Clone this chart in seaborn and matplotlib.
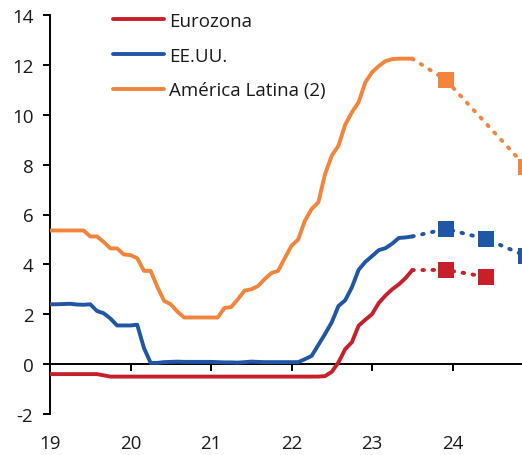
import numpy as np
import pandas as pd
import matplotlib
matplotlib.use("Agg")
import matplotlib.pyplot as plt
import seaborn as sns

# ---------------- data ----------------
series_names = ["Eurozona", "EE.UU.", "América Latina (2)"]
colors = ["#C8202B", "#1F56A6", "#F3843C"]

# monthly history Jan-2019 .. Jul-2023 (x = 19 + month_index/12)
eurozona = [-0.40, -0.40, -0.40, -0.40, -0.40, -0.40, -0.40, -0.40, -0.45, -0.50,
            -0.50, -0.50, -0.50, -0.50, -0.50, -0.50, -0.50, -0.50, -0.50, -0.50,
            -0.50, -0.50, -0.50, -0.50, -0.50, -0.50, -0.50, -0.50, -0.50, -0.50,
            -0.50, -0.50, -0.50, -0.50, -0.50, -0.50, -0.50, -0.50, -0.50, -0.50,
            -0.50, -0.48, -0.31, 0.07, 0.60, 0.88, 1.54, 1.78, 2.00, 2.45,
            2.75, 3.00, 3.20, 3.45, 3.77]
eeuu = [2.40, 2.40, 2.41, 2.42, 2.39, 2.38, 2.40, 2.13, 2.04, 1.83,
        1.55, 1.55, 1.55, 1.58, 0.65, 0.05, 0.05, 0.08, 0.09, 0.10,
        0.09, 0.09, 0.09, 0.09, 0.09, 0.08, 0.07, 0.07, 0.06, 0.08,
        0.10, 0.09, 0.08, 0.08, 0.08, 0.08, 0.08, 0.08, 0.20, 0.33,
        0.77, 1.21, 1.68, 2.33, 2.56, 3.08, 3.78, 4.10, 4.33, 4.57,
        4.65, 4.83, 5.06, 5.08, 5.12]
latam = [5.36, 5.36, 5.36, 5.36, 5.36, 5.36, 5.12, 5.12, 4.90, 4.64,
         4.64, 4.40, 4.37, 4.25, 3.74, 3.74, 3.10, 2.54, 2.40, 2.10,
         1.87, 1.87, 1.87, 1.87, 1.87, 1.87, 2.25, 2.29, 2.60, 2.95,
         3.00, 3.13, 3.41, 3.65, 3.74, 4.25, 4.75, 5.00, 5.75, 6.22,
         6.49, 7.62, 8.36, 8.76, 9.60, 10.10, 10.50, 11.30, 11.70, 11.95,
         12.15, 12.23, 12.25, 12.25, 12.25]

# forecasts (month index: 54 = Jul-23 anchor, 59 = Dec-23, 65 = Jun-24, 71 = Dec-24)
fc_months_eur = [54, 59, 65]
fc_eur = [3.77, 3.78, 3.50]
fc_months_us = [54, 59, 65, 71]
fc_us = [5.12, 5.42, 5.02, 4.33]
fc_months_lat = [54, 59, 71]
fc_lat = [12.25, 11.40, 7.90]

x_ticks = [19, 20, 21, 22, 23, 24]
x_tick_labels = ["19", "20", "21", "22", "23", "24"]
y_ticks = [-2, 0, 2, 4, 6, 8, 10, 12, 14]

# ---------------- build frames ----------------
hist_vals = [eurozona, eeuu, latam]
hist = pd.concat([
    pd.DataFrame({"x": 19 + np.arange(len(v)) / 12.0, "y": v, "serie": n})
    for n, v in zip(series_names, hist_vals)
], ignore_index=True)

fc_list = [(fc_months_eur, fc_eur), (fc_months_us, fc_us), (fc_months_lat, fc_lat)]
fc = pd.concat([
    pd.DataFrame({"x": 19 + np.array(m) / 12.0, "y": v, "serie": n})
    for n, (m, v) in zip(series_names, fc_list)
], ignore_index=True)
fc_markers = pd.concat([
    pd.DataFrame({"x": 19 + np.array(m[1:]) / 12.0, "y": v[1:], "serie": n})
    for n, (m, v) in zip(series_names, fc_list)
], ignore_index=True)

# ---------------- plot ----------------
sns.set_theme(style="white")
plt.rcParams["font.family"] = ["Open Sans", "DejaVu Sans"]
text_color = "#1a1a1a"

fig = plt.figure(figsize=(5.22, 4.56), dpi=100)
ax = fig.add_axes([50 / 522, 41 / 456, 1 - 50 / 522, (415 - 16) / 456])

palette = dict(zip(series_names, colors))
sns.lineplot(data=fc, x="x", y="y", hue="serie", palette=palette, ax=ax,
             linewidth=2.8, legend=False, sort=False,
             linestyle=(0, (0.4, 2.2)), dash_capstyle="round")
for line in ax.lines:
    line.set_dash_capstyle("round")
sns.scatterplot(data=fc_markers, x="x", y="y", hue="serie", palette=palette,
                ax=ax, marker="s", s=130, linewidth=0, legend=False, zorder=4)
sns.lineplot(data=hist, x="x", y="y", hue="serie", palette=palette, ax=ax,
             linewidth=2.8, sort=False, zorder=3)

ax.set_xlim(19, 24.863)
ax.set_ylim(-2, 14)
ax.set_xlabel("")
ax.set_ylabel("")

for s in ["top", "right"]:
    ax.spines[s].set_visible(False)
ax.spines["left"].set_color("black")
ax.spines["left"].set_linewidth(1.4)
ax.spines["bottom"].set_position(("data", 0))
ax.spines["bottom"].set_color("black")
ax.spines["bottom"].set_linewidth(1.4)

ax.set_yticks(y_ticks)
ax.set_yticklabels([str(t) for t in y_ticks])
ax.set_xticks(x_ticks)
ax.set_xticklabels(x_tick_labels)
ax.tick_params(axis="y", direction="out", length=5, width=1.4, color="black",
               pad=7, labelsize=13.5, labelcolor=text_color, left=True)
ax.tick_params(axis="x", direction="out", length=5, width=1.4, color="black",
               pad=45, labelsize=13.5, labelcolor=text_color, bottom=True)

handles, labels = ax.get_legend_handles_labels()
leg = ax.legend(handles, labels, loc="upper left", bbox_to_anchor=(0.117, 1.027),
                frameon=False, fontsize=13.5, handlelength=2.75,
                handletextpad=0.25, labelspacing=0.9, borderaxespad=0)
for t in leg.get_texts():
    t.set_color(text_color)
for h in leg.get_lines():
    h.set_linewidth(2.8)

fig.savefig("out.png", dpi=100)
